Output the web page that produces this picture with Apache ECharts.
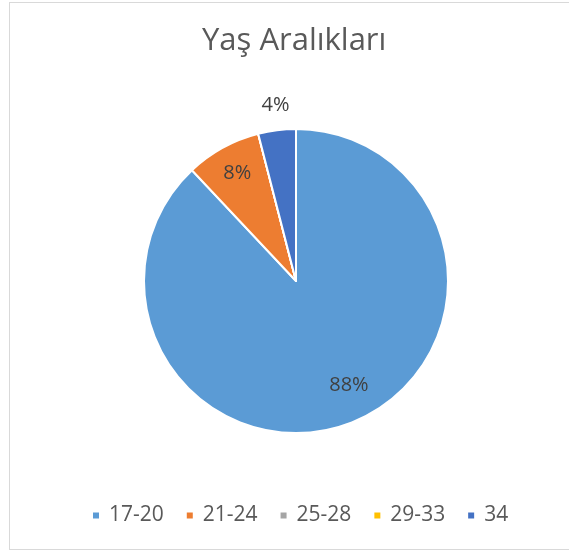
<!DOCTYPE html>
<html><head><meta charset="utf-8">
<script src="https://cdn.jsdelivr.net/npm/echarts@6/dist/echarts.min.js"></script>
<style>html,body{margin:0;padding:0;background:#fff}#c{width:569px;height:551px}
#frame{position:absolute;left:9px;top:2px;width:580px;height:548px;border:1px solid #d9d9d9;box-sizing:border-box;pointer-events:none}</style>
</head><body><div id="c"></div><div id="frame"></div>
<script>
const titleText = 'Yaş Aralıkları';
const categories = ['17-20', '21-24', '25-28', '29-33', '34'];
const counts = [22, 2, 0, 0, 1];
const colors = ['#5B9BD5', '#ED7D31', '#A5A5A5', '#FFC000', '#4472C4'];
const insideLabelCats = ['17-20', '21-24'];
const outsideLabelCats = ['34'];

const font = '"Open Sans", "Noto Sans", sans-serif';
const chart = echarts.init(document.getElementById('c'));
const center = [296, 281];
const R = 152;
const labelFmt = p => Math.round(p.percent) + '%';
const labelShift = { '17-20': [8, -9], '21-24': [0, -1], '34': [2, 3] };

function baseData(showList, transparent) {
  return categories.map((c, i) => ({
    name: c, value: counts[i],
    itemStyle: { color: transparent ? 'rgba(0,0,0,0)' : colors[i] },
    label: { show: showList ? showList.includes(c) : false }
  }));
}
const common = { type: 'pie', center: center, startAngle: 90, clockwise: true, legendHoverLink: false };
const lblStyle = { formatter: labelFmt, fontFamily: font, fontSize: 20, color: '#404040' };
const layoutFn = p => { const s = labelShift[categories[p.dataIndex]] || [0, 0]; return { dx: s[0], dy: s[1] }; };

chart.setOption({
  animation: false,
  title: { text: titleText, left: 202, top: 26, padding: 0, textStyle: { fontFamily: font, fontSize: 31, fontWeight: 'normal', color: '#595959' } },
  legend: {
    data: categories, top: 500, left: 86, icon: 'rect', itemWidth: 8, itemHeight: 8, itemGap: 21,
    textStyle: { fontFamily: font, fontSize: 21, color: '#595959', padding: [0, 0, 0, 4] }, selectedMode: false
  },
  series: [
    Object.assign({}, common, {
      name: 'main', radius: [0, R],
      itemStyle: { borderColor: '#fff', borderWidth: 2 },
      label: { show: false }, labelLine: { show: false },
      emphasis: { disabled: true },
      data: baseData(null, false)
    }),
    Object.assign({}, common, {
      name: 'lblIn', radius: [86, R], silent: true,
      label: Object.assign({ position: 'inside' }, lblStyle),
      labelLine: { show: false }, emphasis: { disabled: true }, labelLayout: layoutFn,
      data: baseData(insideLabelCats, true)
    }),
    Object.assign({}, common, {
      name: 'lblOut', radius: [R + 8, R + 42], silent: true,
      label: Object.assign({ position: 'inside' }, lblStyle),
      labelLine: { show: false }, emphasis: { disabled: true }, labelLayout: layoutFn,
      data: baseData(outsideLabelCats, true)
    })
  ]
});
</script></body></html>
